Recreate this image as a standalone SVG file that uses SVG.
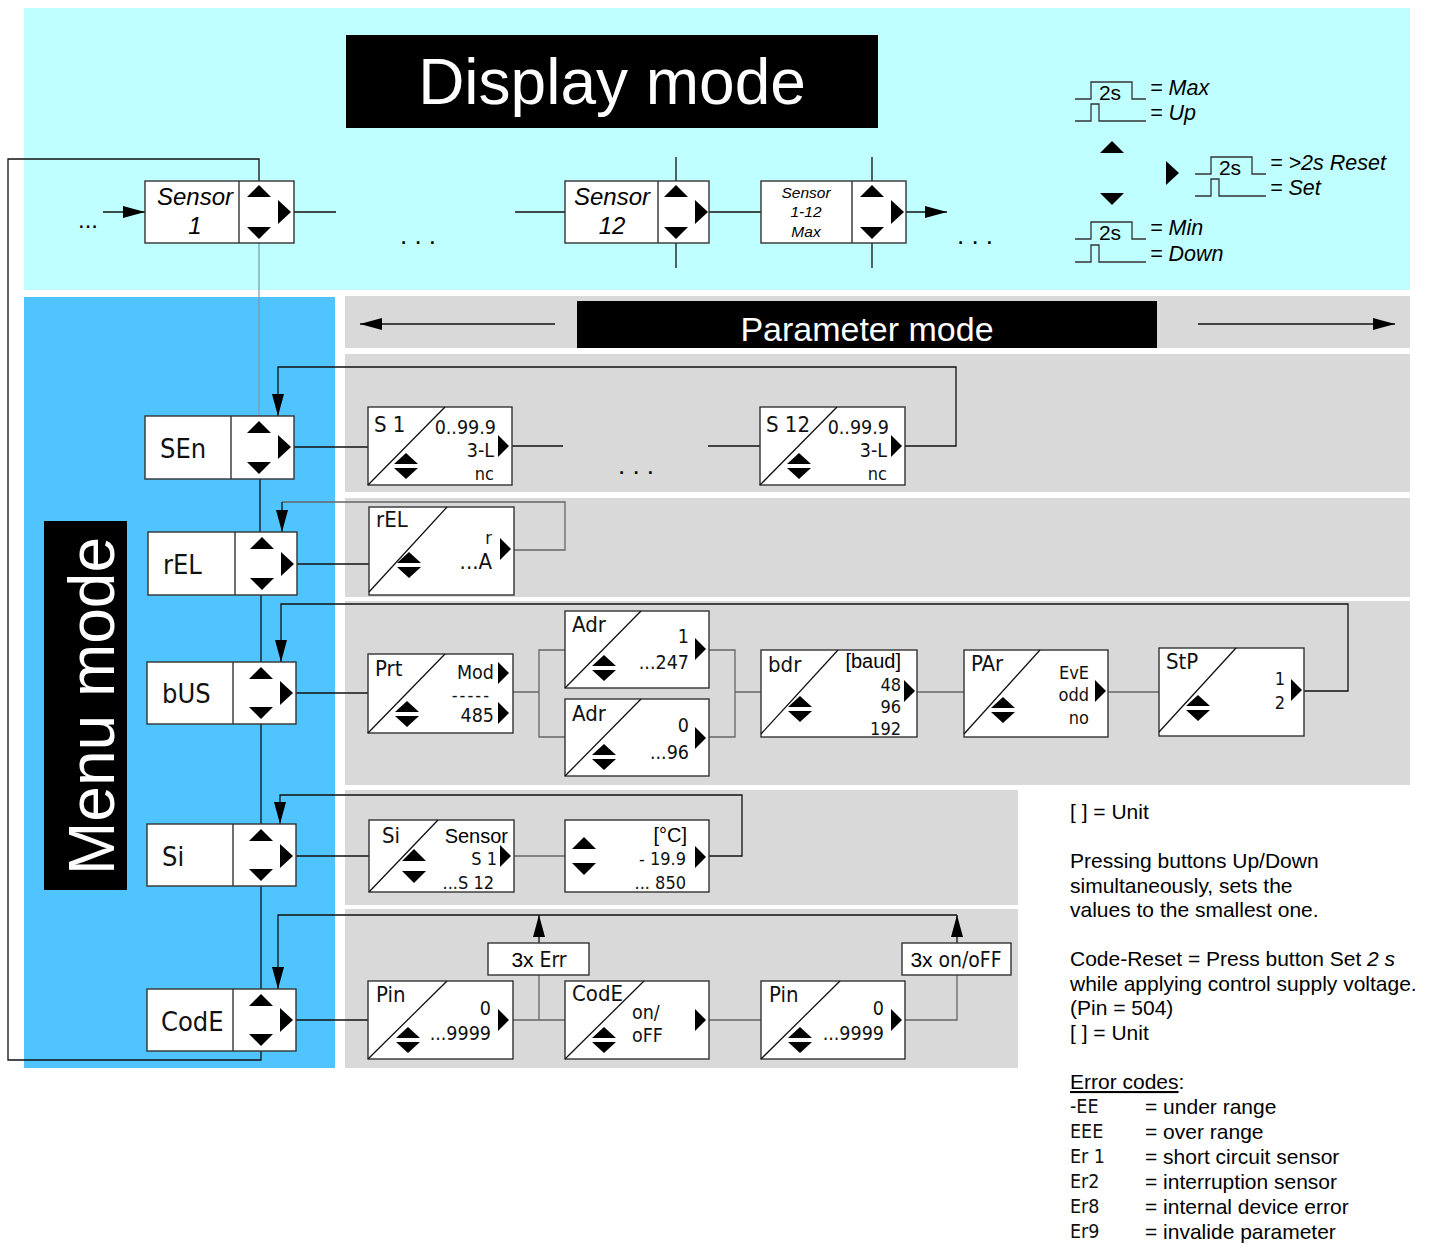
<svg xmlns="http://www.w3.org/2000/svg" xmlns:xlink="http://www.w3.org/1999/xlink" width="1431" height="1244" viewBox="0 0 1431 1244">
<style>
.box{fill:#fff;stroke:#333;stroke-width:1.4}
.ln{fill:none;stroke:#111;stroke-width:1.3}
.lng{fill:none;stroke:#666;stroke-width:1.3}
.sig{fill:none;stroke:#333;stroke-width:1.3}
.ar{font-family:"Liberation Sans",Arial,sans-serif}
.it{font-family:"Liberation Sans",Arial,sans-serif;font-style:italic}
.seg{font-family:"Liberation Sans Narrow","DejaVu Sans Condensed",sans-serif;font-weight:normal;fill:#111}
.s18{font-size:18px}
.s19{font-size:19.5px}
.s20{font-size:22px}
.s26{font-size:27px}
.e{text-anchor:end}
.m{text-anchor:middle}
.wt{fill:#fff}
</style>
<defs>
<marker id="ah" viewBox="0 0 22 12" refX="22" refY="6" markerWidth="22" markerHeight="12" markerUnits="userSpaceOnUse" orient="auto"><path d="M0,0 L22,6 L0,12 z" fill="#000"/></marker>
<g id="up"><path d="M-12,6 L12,6 L0,-6 z"/></g>
<g id="dn"><path d="M-12,-6 L12,-6 L0,6 z"/></g>
<g id="rt"><path d="M-6,-12 L-6,12 L7,0 z"/></g>
<g id="prt"><path d="M-5,-11 L-5,11 L6,0 z"/></g>
<g id="dbl"><path d="M-12,-2 L12,-2 L0,-13 z M-12,2 L12,2 L0,13 z"/></g>
<g id="pulse2s"><path d="M0,17 H16 V0 H57 V17 H71"/></g>
<g id="pulse"><path d="M0,17 H16 V0 H24 V17 H71"/></g>
</defs>

<!-- backgrounds -->
<rect x="24" y="8" width="1386" height="282" fill="#C0FFFF"/>
<rect x="24" y="297" width="311" height="771" fill="#50C4FF"/>
<rect x="345" y="296" width="1065" height="52" fill="#D9D9D9"/>
<rect x="345" y="354" width="1065" height="138" fill="#D9D9D9"/>
<rect x="345" y="498" width="1065" height="99" fill="#D9D9D9"/>
<rect x="345" y="601" width="1065" height="184" fill="#D9D9D9"/>
<rect x="345" y="790" width="673" height="115" fill="#D9D9D9"/>
<rect x="345" y="909" width="673" height="159" fill="#D9D9D9"/>

<!-- titles -->
<g id="title-display">
<rect x="346" y="35" width="532" height="93" fill="#000"/>
<text x="612" y="104" class="ar wt m" font-size="64">Display mode</text>
</g>
<g id="title-menu">
<rect x="44" y="521" width="83" height="369" fill="#000"/>
<text transform="translate(114,706) rotate(-90)" class="ar wt m" font-size="64">Menu mode</text>
</g>
<g id="title-param">
<rect x="577" y="301" width="580" height="47" fill="#000"/>
<text x="867" y="341" class="ar wt m" font-size="34">Parameter mode</text>
<line x1="555" y1="324" x2="360" y2="324" class="ln" marker-end="url(#ah)"/>
<line x1="1198" y1="324" x2="1395" y2="324" class="ln" marker-end="url(#ah)"/>
</g>

<!-- connectors -->
<g id="connectors">
<path class="ln" d="M259,181 V159 H8 V1060 H261 V1051"/>
<line x1="103" y1="212" x2="145" y2="212" class="ln" marker-end="url(#ah)"/>
<line x1="294" y1="212" x2="336" y2="212" class="ln"/>
<line x1="515" y1="212" x2="565" y2="212" class="ln"/>
<line x1="709" y1="212" x2="761" y2="212" class="ln"/>
<line x1="676" y1="157" x2="676" y2="181" class="ln"/>
<line x1="676" y1="243" x2="676" y2="268" class="ln"/>
<line x1="872" y1="157" x2="872" y2="181" class="ln"/>
<line x1="872" y1="243" x2="872" y2="268" class="ln"/>
<line x1="906" y1="212" x2="947" y2="212" class="ln" marker-end="url(#ah)"/>
<line x1="259" y1="243" x2="259" y2="416" stroke="#7a9aa8" stroke-width="1.2"/>
<!-- menu chain -->
<line x1="260" y1="479" x2="260" y2="532" class="ln"/>
<line x1="261" y1="595" x2="261" y2="662" class="ln"/>
<line x1="261" y1="724" x2="261" y2="824" class="ln"/>
<line x1="261" y1="886" x2="261" y2="989" class="ln"/>
<!-- SEn row -->
<line x1="294" y1="447" x2="368" y2="447" class="ln"/>
<line x1="512" y1="446" x2="563" y2="446" class="ln"/>
<line x1="708" y1="446" x2="760" y2="446" class="ln"/>
<path class="ln" d="M905,446 H956 V367 H278 V416" marker-end="url(#ah)"/>
<!-- rEL row -->
<line x1="297" y1="564" x2="369" y2="564" class="ln"/>
<path class="lng" d="M514,550 H565 V502 H282"/>
<path class="ln" d="M282,502 V532" marker-end="url(#ah)"/>
<!-- bUS row -->
<line x1="296" y1="693" x2="368" y2="693" class="ln"/>
<path class="lng" d="M513,692 H539 M565,650 H539 V737 H565 M709,650 H735 V737 H709 M735,692 H761 M917,692 H964 M1108,692 H1159"/>
<path class="ln" d="M1304,691 H1348 V604 H281 V662" marker-end="url(#ah)"/>
<!-- Si row -->
<line x1="296" y1="856" x2="369" y2="856" class="ln"/>
<line x1="514" y1="856" x2="565" y2="856" class="lng"/>
<path class="ln" d="M709,856 H742 V795 H280 V824" marker-end="url(#ah)"/>
<!-- CodE row -->
<line x1="296" y1="1020" x2="368" y2="1020" class="ln"/>
<path class="lng" d="M513,1020 H565 M539,1020 V975 M709,1020 H761 M905,1020 H957 V975"/>
<path class="ln" d="M957,915 H278 V989" marker-end="url(#ah)"/>
<line x1="539" y1="943" x2="539" y2="915" class="ln" marker-end="url(#ah)"/>
<line x1="957" y1="943" x2="957" y2="915" class="ln" marker-end="url(#ah)"/>
</g>

<!-- display mode nodes -->
<text x="88" y="228" class="ar m" font-size="24">...</text>
<g id="sensor1">
<rect x="145" y="181" width="149" height="62" class="box"/>
<line x1="239" y1="181" x2="239" y2="243" stroke="#333" stroke-width="1.4"/>
<text x="195" y="205" class="it m" font-size="24">Sensor</text>
<text x="195" y="234" class="it m" font-size="24">1</text>
<use href="#up" x="259" y="191"/><use href="#dn" x="259" y="233"/><use href="#rt" x="284" y="212"/>
</g>
<text x="418" y="244" class="ar m" font-size="26">. . .</text>
<g id="sensor12">
<rect x="565" y="181" width="144" height="62" class="box"/>
<line x1="658" y1="181" x2="658" y2="243" stroke="#333" stroke-width="1.4"/>
<text x="612" y="205" class="it m" font-size="24">Sensor</text>
<text x="612" y="234" class="it m" font-size="24">12</text>
<use href="#up" x="676" y="191"/><use href="#dn" x="676" y="233"/><use href="#rt" x="701" y="212"/>
</g>
<g id="sensormax">
<rect x="761" y="181" width="145" height="62" class="box"/>
<line x1="852" y1="181" x2="852" y2="243" stroke="#333" stroke-width="1.4"/>
<text x="806" y="198" class="it m" font-size="15.5">Sensor</text>
<text x="806" y="217" class="it m" font-size="15.5">1-12</text>
<text x="806" y="237" class="it m" font-size="15.5">Max</text>
<use href="#up" x="872" y="191"/><use href="#dn" x="872" y="233"/><use href="#rt" x="897" y="212"/>
</g>
<text x="975" y="244" class="ar m" font-size="26">. . .</text>

<!-- legend -->
<g id="legend">
<use href="#pulse2s" x="1075" y="82" class="sig"/>
<text x="1110" y="100" class="ar m" font-size="21">2s</text>
<text x="1150" y="95" class="it" font-size="21.5">= Max</text>
<use href="#pulse" x="1075" y="104" class="sig"/>
<text x="1150" y="120" class="it" font-size="21.5">= Up</text>
<use href="#up" x="1112" y="147"/>
<use href="#dn" x="1112" y="199"/>
<use href="#rt" x="1172" y="173"/>
<use href="#pulse2s" x="1195" y="157" class="sig"/>
<text x="1230" y="175" class="ar m" font-size="21">2s</text>
<text x="1270" y="170" class="it" font-size="21.5">= &gt;2s Reset</text>
<use href="#pulse" x="1195" y="179" class="sig"/>
<text x="1270" y="195" class="it" font-size="21.5">= Set</text>
<use href="#pulse2s" x="1075" y="222" class="sig"/>
<text x="1110" y="240" class="ar m" font-size="21">2s</text>
<text x="1150" y="235" class="it" font-size="21.5">= Min</text>
<use href="#pulse" x="1075" y="245" class="sig"/>
<text x="1150" y="261" class="it" font-size="21.5">= Down</text>
</g>

<!-- menu nodes -->
<g id="menu-sen">
<rect x="145" y="416" width="149" height="63" class="box"/>
<line x1="231" y1="416" x2="231" y2="479" stroke="#333" stroke-width="1.4"/>
<text x="160" y="458" class="seg s26">SEn</text>
<use href="#up" x="259" y="427"/><use href="#dn" x="259" y="468"/><use href="#rt" x="284" y="447"/>
</g>
<g id="menu-rel">
<rect x="148" y="532" width="149" height="63" class="box"/>
<line x1="235" y1="532" x2="235" y2="595" stroke="#333" stroke-width="1.4"/>
<text x="163" y="574" class="seg s26">rEL</text>
<use href="#up" x="262" y="543"/><use href="#dn" x="262" y="584"/><use href="#rt" x="287" y="564"/>
</g>
<g id="menu-bus">
<rect x="147" y="662" width="149" height="62" class="box"/>
<line x1="233" y1="662" x2="233" y2="724" stroke="#333" stroke-width="1.4"/>
<text x="162" y="703" class="seg s26">bUS</text>
<use href="#up" x="261" y="673"/><use href="#dn" x="261" y="713"/><use href="#rt" x="286" y="693"/>
</g>
<g id="menu-si">
<rect x="147" y="824" width="149" height="62" class="box"/>
<line x1="233" y1="824" x2="233" y2="886" stroke="#333" stroke-width="1.4"/>
<text x="162" y="866" class="seg s26">Si</text>
<use href="#up" x="261" y="835"/><use href="#dn" x="261" y="875"/><use href="#rt" x="286" y="856"/>
</g>
<g id="menu-code">
<rect x="147" y="989" width="149" height="62" class="box"/>
<line x1="233" y1="989" x2="233" y2="1051" stroke="#333" stroke-width="1.4"/>
<text x="161" y="1031" class="seg s26">CodE</text>
<use href="#up" x="261" y="1000"/><use href="#dn" x="261" y="1040"/><use href="#rt" x="286" y="1020"/>
</g>

<!-- SEn parameters -->
<g id="p-s1">
<rect x="368" y="407" width="144" height="78" class="box"/>
<line x1="368" y1="485" x2="445" y2="407" class="ln"/>
<text x="374" y="432" class="seg s20">S  1</text>
<text x="496" y="434" class="seg s19 e">0..99.9</text>
<text x="494" y="457" class="seg s19 e">3-L</text>
<text x="494" y="480" class="seg s18 e">nc</text>
<use href="#prt" x="503" y="446"/><use href="#dbl" x="406" y="466"/>
</g>
<text x="636" y="474" class="ar m" font-size="26">. . .</text>
<g id="p-s12">
<rect x="760" y="407" width="145" height="78" class="box"/>
<line x1="760" y1="485" x2="837" y2="407" class="ln"/>
<text x="766" y="432" class="seg s20">S 12</text>
<text x="889" y="434" class="seg s19 e">0..99.9</text>
<text x="887" y="457" class="seg s19 e">3-L</text>
<text x="887" y="480" class="seg s18 e">nc</text>
<use href="#prt" x="896" y="446"/><use href="#dbl" x="799" y="466"/>
</g>

<!-- rEL parameter -->
<g id="p-rel">
<rect x="369" y="507" width="145" height="88" class="box"/>
<line x1="369" y1="592" x2="447" y2="507" class="ln"/>
<text x="376" y="527" class="seg s20">rEL</text>
<text x="492" y="544" class="seg s18 e">r</text>
<text x="492" y="569" class="seg s20 e">...A</text>
<use href="#prt" x="505" y="549"/><use href="#dbl" x="409" y="565"/>
</g>

<!-- bUS parameters -->
<g id="p-prt">
<rect x="368" y="654" width="145" height="79" class="box"/>
<line x1="368" y1="733" x2="445" y2="654" class="ln"/>
<text x="375" y="676" class="seg s20">Prt</text>
<text x="494" y="679" class="seg s19 e">Mod</text>
<text x="491" y="701" class="seg s18 e" letter-spacing="2">-----</text>
<text x="494" y="722" class="seg s19 e">485</text>
<use href="#prt" x="503" y="673"/><use href="#prt" x="503" y="713"/><use href="#dbl" x="407" y="714"/>
</g>
<g id="p-adr1">
<rect x="565" y="611" width="144" height="77" class="box"/>
<line x1="565" y1="688" x2="641" y2="611" class="ln"/>
<text x="572" y="632" class="seg s20">Adr</text>
<text x="689" y="643" class="seg s19 e">1</text>
<text x="689" y="669" class="seg s19 e">...247</text>
<use href="#prt" x="700" y="649"/><use href="#dbl" x="604" y="668"/>
</g>
<g id="p-adr2">
<rect x="565" y="699" width="144" height="77" class="box"/>
<line x1="565" y1="776" x2="641" y2="699" class="ln"/>
<text x="572" y="721" class="seg s20">Adr</text>
<text x="689" y="732" class="seg s19 e">0</text>
<text x="689" y="759" class="seg s19 e">...96</text>
<use href="#prt" x="700" y="738"/><use href="#dbl" x="604" y="757"/>
</g>
<g id="p-bdr">
<rect x="761" y="650" width="156" height="87" class="box"/>
<line x1="761" y1="734" x2="838" y2="650" class="ln"/>
<text x="768" y="672" class="seg s20">bdr</text>
<text x="901" y="668" class="ar e" font-size="20">[baud]</text>
<text x="901" y="691" class="seg s18 e">48</text>
<text x="901" y="713" class="seg s18 e">96</text>
<text x="901" y="735" class="seg s18 e">192</text>
<use href="#prt" x="909" y="691"/><use href="#dbl" x="800" y="709"/>
</g>
<g id="p-par">
<rect x="964" y="650" width="144" height="87" class="box"/>
<line x1="964" y1="734" x2="1040" y2="650" class="ln"/>
<text x="971" y="671" class="seg s20">PAr</text>
<text x="1089" y="679" class="seg s18 e">EvE</text>
<text x="1089" y="701" class="seg s18 e">odd</text>
<text x="1089" y="724" class="seg s18 e">no</text>
<use href="#prt" x="1100" y="691"/><use href="#dbl" x="1003" y="710"/>
</g>
<g id="p-stp">
<rect x="1159" y="648" width="145" height="88" class="box"/>
<line x1="1159" y1="732" x2="1236" y2="648" class="ln"/>
<text x="1166" y="669" class="seg s20">StP</text>
<text x="1285" y="685" class="seg s18 e">1</text>
<text x="1285" y="709" class="seg s18 e">2</text>
<use href="#prt" x="1296" y="690"/><use href="#dbl" x="1198" y="708"/>
</g>

<!-- Si parameters -->
<g id="p-si">
<rect x="369" y="820" width="145" height="72" class="box"/>
<line x1="369" y1="892" x2="438" y2="820" class="ln"/>
<text x="382" y="843" class="seg s20">Si</text>
<text x="508" y="843" class="ar e" font-size="20">Sensor</text>
<text x="497" y="865" class="seg s18 e">S 1</text>
<text x="494" y="889" class="seg s18 e">...S 12</text>
<use href="#prt" x="505" y="856"/>
<use href="#up" x="414" y="855"/><use href="#dn" x="414" y="877"/>
</g>
<g id="p-temp">
<rect x="565" y="820" width="144" height="72" class="box"/>
<text x="687" y="842" class="ar e" font-size="20">[°C]</text>
<text x="686" y="865" class="seg s18 e">- 19.9</text>
<text x="686" y="889" class="seg s18 e">... 850</text>
<use href="#prt" x="700" y="857"/>
<use href="#up" x="584" y="843"/><use href="#dn" x="584" y="869"/>
</g>

<!-- CodE parameters -->
<g id="p-pin1">
<rect x="368" y="981" width="145" height="78" class="box"/>
<line x1="368" y1="1059" x2="447" y2="981" class="ln"/>
<text x="376" y="1002" class="seg s20">Pin</text>
<text x="491" y="1015" class="seg s19 e">0</text>
<text x="491" y="1040" class="seg s19 e">...9999</text>
<use href="#prt" x="503" y="1020"/><use href="#dbl" x="408" y="1040"/>
</g>
<g id="err-box">
<rect x="488" y="943" width="101" height="32" class="box"/>
<text x="539" y="967" class="m" font-size="21"><tspan class="ar">3x </tspan><tspan class="seg">Err</tspan></text>
</g>
<g id="p-code">
<rect x="565" y="981" width="144" height="78" class="box"/>
<line x1="565" y1="1059" x2="644" y2="981" class="ln"/>
<text x="572" y="1001" class="seg s20">CodE</text>
<text x="632" y="1019" class="seg s19">on/</text>
<text x="632" y="1042" class="seg s19">oFF</text>
<use href="#prt" x="700" y="1020"/><use href="#dbl" x="604" y="1040"/>
</g>
<g id="p-pin2">
<rect x="761" y="981" width="144" height="78" class="box"/>
<line x1="761" y1="1059" x2="840" y2="981" class="ln"/>
<text x="769" y="1002" class="seg s20">Pin</text>
<text x="884" y="1015" class="seg s19 e">0</text>
<text x="884" y="1040" class="seg s19 e">...9999</text>
<use href="#prt" x="896" y="1020"/><use href="#dbl" x="800" y="1040"/>
</g>
<g id="onoff-box">
<rect x="902" y="943" width="109" height="32" class="box"/>
<text x="956" y="967" class="m" font-size="21"><tspan class="ar">3x </tspan><tspan class="seg">on/oFF</tspan></text>
</g>

<!-- notes -->
<g id="notes" class="ar" font-size="21">
<text x="1070" y="819">[ ] = Unit</text>
<text x="1070" y="868">Pressing buttons Up/Down</text>
<text x="1070" y="893">simultaneously, sets the</text>
<text x="1070" y="917">values to the smallest one.</text>
<text x="1070" y="966">Code-Reset = Press button Set <tspan font-style="italic">2 s</tspan></text>
<text x="1070" y="991">while applying control supply voltage.</text>
<text x="1070" y="1015">(Pin = 504)</text>
<text x="1070" y="1040">[ ] = Unit</text>
<text x="1070" y="1089"><tspan text-decoration="underline">Error codes</tspan>:</text>
<text x="1145" y="1114">= under range</text>
<text x="1145" y="1139">= over range</text>
<text x="1145" y="1164">= short circuit sensor</text>
<text x="1145" y="1189">= interruption sensor</text>
<text x="1145" y="1214">= internal device error</text>
<text x="1145" y="1239">= invalide parameter</text>
</g>
<g id="errcodes" class="seg s19" fill="#444">
<text x="1070" y="1113">-EE</text>
<text x="1070" y="1138">EEE</text>
<text x="1070" y="1163">Er 1</text>
<text x="1070" y="1188">Er2</text>
<text x="1070" y="1213">Er8</text>
<text x="1070" y="1238">Er9</text>
</g>
</svg>
